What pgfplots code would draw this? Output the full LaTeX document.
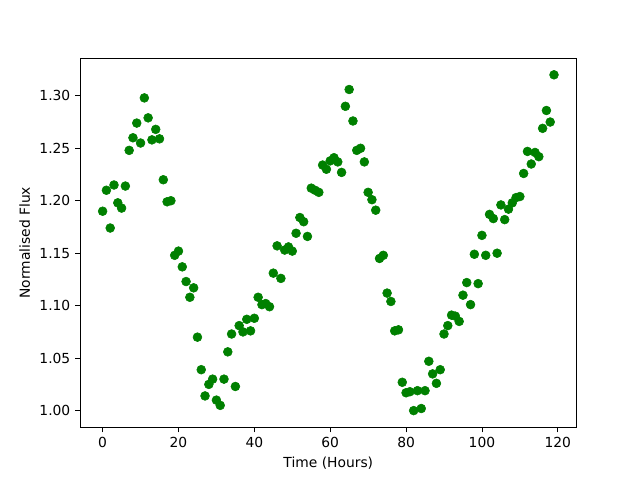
\documentclass[border=0pt]{standalone}
\usepackage{fontspec}
\setmainfont{DejaVu Sans}
\usepackage{pgfplots}
\pgfplotsset{compat=1.18}
\definecolor{mplgreen}{RGB}{0,128,0}
\begin{document}
\fontsize{10}{12}\selectfont
\begin{tikzpicture}
\path[use as bounding box] (-57.8pt,-38.3pt) rectangle (404.3pt,308.6pt);
\begin{axis}[
  at={(0pt,0pt)}, anchor=south west,
  scale only axis, width=358.5pt, height=266.7pt,
  xmin=-5.95, xmax=124.95, ymin=0.984, ymax=1.336,
  xtick={0,20,40,60,80,100,120},
  ytick={1.00,1.05,1.10,1.15,1.20,1.25,1.30},
  yticklabel style={/pgf/number format/.cd, fixed, fixed zerofill, precision=2},
  /pgf/number format/assume math mode=true,
  tick align=outside, tick pos=left,
  major tick length=3.5pt,
  tick style={black, line width=0.6pt},
  axis line style={line width=0.6pt},
  ticklabel style={font=\fontsize{10}{12}\selectfont},
  xlabel={Time (Hours)}, ylabel={Normalised Flux},
  label style={font=\fontsize{10}{12}\selectfont},
  xlabel style={yshift=0pt},
  ylabel style={yshift=0pt},
]
\addplot[only marks, mark=*, mark size=3.2pt, mplgreen, mark options={fill=mplgreen, draw=mplgreen}] table {
x y
0 1.190
1 1.210
2 1.174
3 1.215
4 1.198
5 1.193
6 1.214
7 1.248
8 1.260
9 1.274
10 1.255
11 1.298
12 1.279
13 1.258
14 1.268
15 1.259
16 1.220
17 1.199
18 1.200
19 1.148
20 1.152
21 1.137
22 1.123
23 1.108
24 1.117
25 1.070
26 1.039
27 1.014
28 1.025
29 1.030
30 1.010
31 1.005
32 1.030
33 1.056
34 1.073
35 1.023
36 1.081
37 1.075
38 1.087
39 1.076
40 1.088
41 1.108
42 1.101
43 1.102
44 1.099
45 1.131
46 1.157
47 1.126
48 1.153
49 1.156
50 1.152
51 1.169
52 1.184
53 1.180
54 1.166
55 1.212
56 1.210
57 1.208
58 1.234
59 1.230
60 1.238
61 1.241
62 1.237
63 1.227
64 1.290
65 1.306
66 1.276
67 1.248
68 1.250
69 1.237
70 1.208
71 1.201
72 1.191
73 1.145
74 1.148
75 1.112
76 1.104
77 1.076
78 1.077
79 1.027
80 1.017
81 1.018
82 1.000
83 1.019
84 1.002
85 1.019
86 1.047
87 1.035
88 1.026
89 1.039
90 1.073
91 1.081
92 1.091
93 1.090
94 1.085
95 1.110
96 1.122
97 1.101
98 1.149
99 1.121
100 1.167
101 1.148
102 1.187
103 1.183
104 1.150
105 1.196
106 1.182
107 1.192
108 1.198
109 1.203
110 1.204
111 1.226
112 1.247
113 1.235
114 1.246
115 1.242
116 1.269
117 1.286
118 1.275
119 1.320
};
\end{axis}
\end{tikzpicture}
\end{document}
